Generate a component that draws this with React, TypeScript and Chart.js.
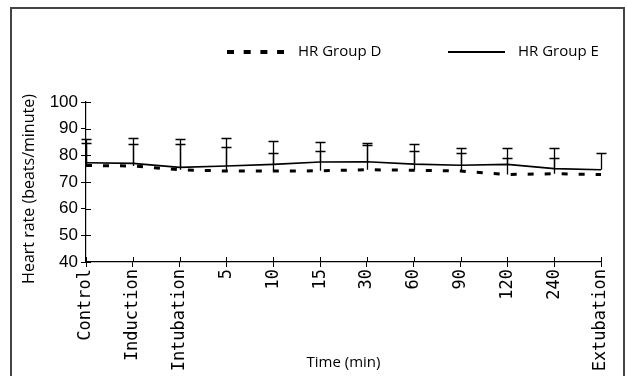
import React, { useEffect, useRef } from "react";
import { Chart, registerables } from "chart.js";

Chart.register(...registerables);

const categories = ["Control", "Induction", "Intubation", "5", "10", "15", "30", "60", "90", "120", "240", "Extubation"];
const groupE = [77.2, 77.0, 75.5, 76.0, 76.6, 77.5, 77.6, 76.7, 76.3, 76.6, 75.0, 74.6];
const groupD = [76.2, 76.0, 74.6, 74.1, 74.1, 74.2, 74.6, 74.4, 74.1, 72.8, 73.1, 72.8];
const errTopE = [86.3, 86.6, 86.2, 86.5, 85.5, 84.9, 84.6, 84.2, 82.6, 82.6, 82.7, 80.9];
const errTopD = [84.6, 84.1, 84.1, 83.0, 80.9, 81.7, 83.9, 81.7, 80.9, 78.9, 79.0, null];
const yTicks = [40, 50, 60, 70, 80, 90, 100];

const errBars: (number | null)[][] = [errTopD, errTopE];

const decorPlugin = {
  id: "decor",
  beforeDraw(chart: any) {
    const ctx = chart.ctx;
    ctx.save();
    ctx.fillStyle = "#fff";
    ctx.fillRect(0, 0, chart.width, chart.height);
    ctx.strokeStyle = "#444";
    ctx.lineWidth = 2;
    ctx.beginPath();
    ctx.moveTo(11, 376);
    ctx.lineTo(11, 8);
    ctx.lineTo(624, 8);
    ctx.lineTo(624, 376);
    ctx.stroke();
    ctx.restore();
  },
  afterDraw(chart: any) {
    const ctx = chart.ctx;
    const xs = chart.scales.x;
    const ys = chart.scales.y;
    const area = chart.chartArea;
    ctx.save();
    ctx.strokeStyle = "#000";
    ctx.lineWidth = 1;
    ctx.beginPath();
    ys.ticks.forEach((t: any) => {
      const y = Math.round(ys.getPixelForValue(t.value)) + 0.5;
      ctx.moveTo(area.left, y);
      ctx.lineTo(area.left + 5, y);
    });
    categories.forEach((_c, i) => {
      const x = Math.round(xs.getPixelForValue(i)) + 0.5;
      ctx.moveTo(x, area.bottom);
      ctx.lineTo(x, area.bottom - 5);
    });
    ctx.stroke();
    ctx.fillStyle = "#000";
    ctx.font = "16px 'Open Sans'";
    ctx.textAlign = "center";
    ctx.textBaseline = "middle";
    ctx.translate(29, 189);
    ctx.rotate(-Math.PI / 2);
    ctx.fillText("Heart rate (beats/minute)", 0, 0);
    ctx.setTransform(1, 0, 0, 1, 0, 0);
    const ly = 52;
    ctx.strokeStyle = "#000";
    ctx.lineWidth = 4;
    ctx.setLineDash([7, 9.7]);
    ctx.beginPath();
    ctx.moveTo(227, ly);
    ctx.lineTo(284, ly);
    ctx.stroke();
    ctx.setLineDash([]);
    ctx.lineWidth = 2;
    ctx.beginPath();
    ctx.moveTo(448, ly);
    ctx.lineTo(505, ly);
    ctx.stroke();
    ctx.font = "15px 'Open Sans'";
    ctx.textAlign = "left";
    ctx.textBaseline = "middle";
    ctx.fillText(chart.data.datasets[0].label, 298, ly);
    ctx.fillText(chart.data.datasets[1].label, 518, ly);
    ctx.restore();
  },
  afterDatasetsDraw(chart: any) {
    const ctx = chart.ctx;
    const xs = chart.scales.x;
    const ys = chart.scales.y;
    ctx.save();
    ctx.strokeStyle = "#000";
    ctx.lineWidth = 1.3;
    chart.data.datasets.forEach((ds: any, di: number) => {
      const tops = errBars[di];
      ds.data.forEach((v: number, i: number) => {
        const top = tops[i];
        if (top == null) return;
        const x = Math.round(xs.getPixelForValue(i)) + 0.5;
        const y0 = ys.getPixelForValue(v);
        const y1 = Math.round(ys.getPixelForValue(top)) + 0.5;
        ctx.beginPath();
        ctx.moveTo(x, y0);
        ctx.lineTo(x, y1);
        ctx.moveTo(x - 5, y1);
        ctx.lineTo(x + 5, y1);
        ctx.stroke();
      });
    });
    ctx.restore();
  },
};

export default function App() {
  const ref = useRef<HTMLCanvasElement | null>(null);
  useEffect(() => {
    if (!ref.current) return;
    const chart = new Chart(ref.current, {
      type: "line",
      data: {
        labels: categories,
        datasets: [
          {
            label: "HR Group D",
            data: groupD,
            borderColor: "#000",
            borderWidth: 3,
            borderDash: [6, 11],
            borderCapStyle: "butt",
            pointRadius: 0,
            tension: 0,
            fill: false,
          },
          {
            label: "HR Group E",
            data: groupE,
            borderColor: "#000",
            borderWidth: 1.6,
            pointRadius: 0,
            tension: 0,
            fill: false,
          },
        ],
      },
      options: {
        animation: false,
        responsive: true,
        maintainAspectRatio: false,
        layout: { padding: { left: 0, top: 102, right: 26, bottom: 0 } },
        plugins: { legend: { display: false }, tooltip: { enabled: false } },
        scales: {
          x: {
            type: "category",
            offset: false,
            afterFit(scale: any) {
              scale.height = 114;
            },
            grid: { drawOnChartArea: false, color: "#000", tickLength: 5, lineWidth: 1 },
            border: { color: "#000", width: 1.2 },
            ticks: {
              autoSkip: false,
              minRotation: 90,
              maxRotation: 90,
              padding: 2,
              color: "#000",
              font: { family: "'DejaVu Sans Mono'", size: 17 },
            },
            title: {
              display: true,
              text: "Time (min)",
              color: "#000",
              font: { family: "'Open Sans'", size: 15 },
              padding: { top: 4, bottom: 4 },
            },
          },
          y: {
            min: 40,
            max: 100,
            afterFit(scale: any) {
              scale.width = 86;
            },
            afterBuildTicks(scale: any) {
              scale.ticks = yTicks.map((v) => ({ value: v }));
            },
            grid: { drawOnChartArea: false, color: "#000", tickLength: 5, lineWidth: 1 },
            border: { color: "#000", width: 1.2 },
            ticks: {
              padding: 3,
              color: "#000",
              font: { family: "'Liberation Sans'", size: 17 },
            },
          },
        },
      },
      plugins: [decorPlugin],
    });
    return () => chart.destroy();
  }, []);
  return (
    <div style={{ position: "absolute", left: 0, top: 0, width: 627, height: 376, background: "#fff" }}>
      <canvas ref={ref} />
    </div>
  );
}
